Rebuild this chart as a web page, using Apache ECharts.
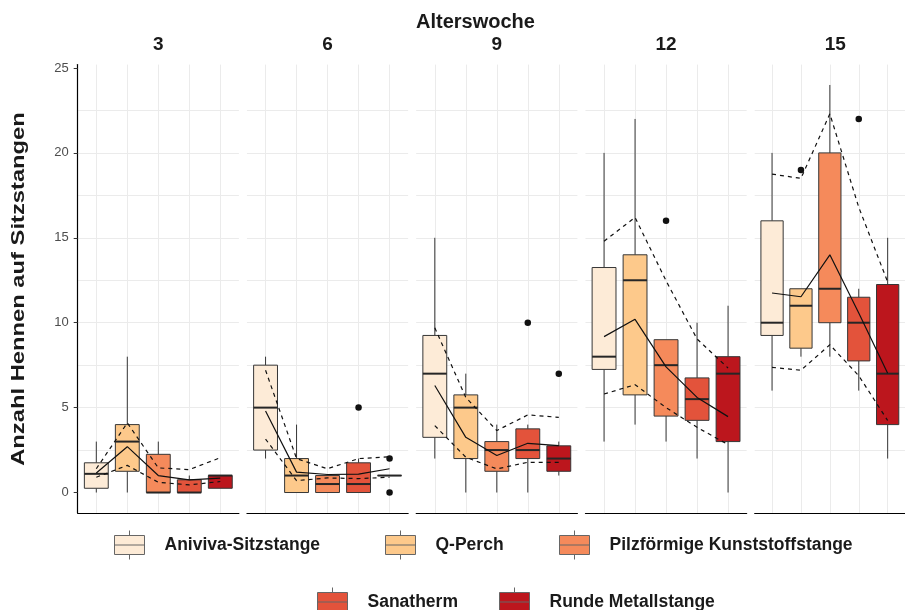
<!DOCTYPE html>
<html><head><meta charset="utf-8">
<script src="https://cdn.jsdelivr.net/npm/echarts@6/dist/echarts.min.js"></script>
<style>html,body{margin:0;padding:0;background:#fff}#c{width:905px;height:610px}</style>
</head><body><div id="c"></div>
<script>
const weeks = ['3', '6', '9', '12', '15'];
const perches = ['Aniviva-Sitzstange', 'Q-Perch', 'Pilzförmige Kunststoffstange', 'Sanatherm', 'Runde Metallstange'];
const yTicks = [0, 5, 10, 15, 20, 25];

// boxes: [min, Q1, median, Q3, max] per perch
const boxW3  = [[0,0.25,1.1,1.75,3],[0,1.25,3,4,8],[0,0,0,2.25,3],[0,0,0,0.75,1],[0.25,0.25,1,1,1]];
const boxW6  = [[2,2.5,5,7.5,8],[0,0,1,2,4],[0,0,0.5,1,1],[0,0,0.5,1.75,2],[1,1,1,1,1]];
const boxW9  = [[2,3.25,7,9.25,15],[0,2,5,5.75,7],[0,1.25,2.5,3,4],[0,2,2.5,3.75,4],[1,1.25,2,2.75,3]];
const boxW12 = [[3,7.25,8,13.25,20],[4,5.75,12.5,14,22],[3,4.5,7.5,9,9],[2,4.25,5.5,6.75,10],[0,3,7,8,11]];
const boxW15 = [[6,9.25,10,16,20],[8,8.5,11,12,12],[8,10,12,20,24],[6,7.75,10,11.5,12],[2,4,7,12.25,15]];

// outliers: [perch index, value]
const outW3  = [];
const outW6  = [[3,5],[4,2],[4,0]];
const outW9  = [[3,10],[4,7]];
const outW12 = [[2,16]];
const outW15 = [[1,19],[3,22]];

// mean (solid) and upper/lower (dashed) lines
const meanW3 = [1.15,2.7,1.0,0.75,0.85];
const upW3   = [1.4,4.1,1.45,1.35,2.05];
const loW3   = [0.9,1.6,0.6,0.45,0.65];
const meanW6 = [4.8,1.2,1.06,1.08,1.4];
const upW6   = [7.2,2.0,1.4,2.0,2.1];
const loW6   = [3.15,0.7,0.86,0.82,0.9];
const meanW9 = [6.3,3.25,2.18,2.9,2.76];
const upW9   = [9.7,5.6,3.65,4.57,4.43];
const loW9   = [3.94,2.08,1.39,1.78,1.78];
const meanW12 = [9.18,10.2,7.4,5.6,4.47];
const upW12   = [14.8,16.2,12.47,9.04,7.33];
const loW12   = [5.8,6.35,5.0,3.84,2.82];
const meanW15 = [11.75,11.53,14.0,10.57,7.02];
const upW15   = [18.75,18.5,22.3,16.8,12.4];
const loW15   = [7.37,7.2,8.7,6.88,4.24];

const boxes = [boxW3, boxW6, boxW9, boxW12, boxW15];
const outliers = [outW3, outW6, outW9, outW12, outW15];
const means = [meanW3, meanW6, meanW9, meanW12, meanW15];
const uppers = [upW3, upW6, upW9, upW12, upW15];
const lowers = [loW3, loW6, loW9, loW12, loW15];

const colors = ['#FDEBD7', '#FDC98B', '#F58A5B', '#E3533B', '#BC161D'];
const FONT = 'Liberation Sans, Arial, sans-serif';

// layout
const panelLeft0 = 77.7, panelStep = 169.25, panelW = 161.2, panelTop = 64.6, panelH = 448.3;
const BOX_WIDTH = 0.77;
const gridLeft = i => panelLeft0 + panelStep * i;

const grids = [], xAxes = [], yAxes = [], series = [];
weeks.forEach((w, i) => {
  grids.push({ left: gridLeft(i), top: panelTop, width: panelW, height: panelH, containLabel: false });
  xAxes.push({
    type: 'value', gridIndex: i, min: -0.6, max: 4.6, splitNumber: 5,
    axisLine: { show: true, onZero: false, lineStyle: { color: '#000', width: 1.2 } },
    axisTick: { show: false }, axisLabel: { show: false },
    splitLine: { show: true, showMinLine: false, showMaxLine: false, lineStyle: { color: '#EBEBEB', width: 1 } }
  });
  yAxes.push({
    type: 'value', gridIndex: i, min: -1.2, max: 25.2, splitNumber: 5,
    axisLine: { show: i === 0, onZero: false, lineStyle: { color: '#000', width: 1.2 } },
    axisTick: { show: i === 0, length: 4, customValues: yTicks, lineStyle: { color: '#333' } },
    axisLabel: { show: i === 0, customValues: yTicks, color: '#4D4D4D', fontSize: 13, fontFamily: FONT, margin: 9 },
    splitLine: { show: true, showMinLine: false, showMaxLine: false, lineStyle: { color: '#EBEBEB', width: 1 } },
    minorTick: { show: false, splitNumber: 2 },
    minorSplitLine: { show: true, lineStyle: { color: '#EBEBEB', width: 1 } }
  });
  perches.forEach((p, k) => {
    series.push({
      type: 'custom', name: p, xAxisIndex: i, yAxisIndex: i, z: 2,
      itemStyle: { color: colors[k] },
      encode: { x: 0, y: [1, 2, 3, 4, 5] },
      data: [[k].concat(boxes[i][k])],
      renderItem: function (params, api) {
        const x = api.value(0);
        const pLo = api.coord([x, api.value(1)]);
        const pQ1 = api.coord([x, api.value(2)]);
        const pMd = api.coord([x, api.value(3)]);
        const pQ3 = api.coord([x, api.value(4)]);
        const pHi = api.coord([x, api.value(5)]);
        const half = api.size([BOX_WIDTH, 0])[0] / 2;
        const cx = pMd[0];
        const stroke = '#363636';
        return { type: 'group', children: [
          { type: 'line', shape: { x1: cx, y1: pHi[1], x2: cx, y2: pQ3[1] }, style: { stroke, lineWidth: 1 } },
          { type: 'line', shape: { x1: cx, y1: pQ1[1], x2: cx, y2: pLo[1] }, style: { stroke, lineWidth: 1 } },
          { type: 'rect', shape: { x: cx - half, y: pQ3[1], width: 2 * half, height: pQ1[1] - pQ3[1] }, style: { fill: colors[k], stroke, lineWidth: 1 } },
          { type: 'line', shape: { x1: cx - half, y1: pMd[1], x2: cx + half, y2: pMd[1] }, style: { stroke: '#262626', lineWidth: 2 } }
        ] };
      }
    });
  });
  const toPts = arr => arr.map((v, k) => [k, v]);
  series.push({ type: 'line', xAxisIndex: i, yAxisIndex: i, z: 3, symbol: 'none', silent: true,
    data: toPts(means[i]), lineStyle: { color: '#111', width: 1.2 } });
  series.push({ type: 'line', xAxisIndex: i, yAxisIndex: i, z: 3, symbol: 'none', silent: true,
    data: toPts(uppers[i]), lineStyle: { color: '#111', width: 1.2, type: [4, 4] } });
  series.push({ type: 'line', xAxisIndex: i, yAxisIndex: i, z: 3, symbol: 'none', silent: true,
    data: toPts(lowers[i]), lineStyle: { color: '#111', width: 1.2, type: [4, 4] } });
  series.push({ type: 'scatter', xAxisIndex: i, yAxisIndex: i, z: 4, symbolSize: 6.5, silent: true,
    data: outliers[i], itemStyle: { color: '#111', opacity: 1 } });
});

const legendPos = [[114, 530], [385, 530], [559, 530], [317, 587], [499, 587]];
const keyIcon = 'path://M0,5L30,5L30,24L0,24Z M0,14.5L30,14.5 M15,0L15,5 M15,24L15,29 M45,14.5';
const legends = perches.map((p, k) => ({
  data: [p], left: legendPos[k][0], top: legendPos[k][1], padding: 0,
  icon: keyIcon, itemWidth: 45, itemHeight: 29, selectedMode: false,
  itemStyle: { borderColor: '#666', borderWidth: 1 },
  textStyle: { fontSize: 17.5, fontWeight: 'bold', color: '#1a1a1a', fontFamily: FONT }
}));

const graphics = [
  { type: 'text', x: 475.5, y: 22, style: { text: 'Alterswoche', font: 'bold 20px ' + FONT, fill: '#1a1a1a', align: 'center', verticalAlign: 'middle' } },
  { type: 'text', x: 19, y: 289, rotation: Math.PI / 2, scaleX: 1.25, scaleY: 1,
    style: { text: 'Anzahl Hennen auf Sitzstangen', font: 'bold 19px ' + FONT, fill: '#1a1a1a', align: 'center', verticalAlign: 'middle' } }
].concat(weeks.map((w, i) => ({
  type: 'text', x: gridLeft(i) + panelW / 2, y: 45,
  style: { text: w, font: 'bold 19px ' + FONT, fill: '#1a1a1a', align: 'center', verticalAlign: 'middle' }
})));

const chart = echarts.init(document.getElementById('c'), null, { renderer: 'canvas' });
chart.setOption({
  animation: false,
  backgroundColor: '#fff',
  grid: grids, xAxis: xAxes, yAxis: yAxes,
  legend: legends,
  graphic: graphics,
  series: series
});
</script></body></html>
